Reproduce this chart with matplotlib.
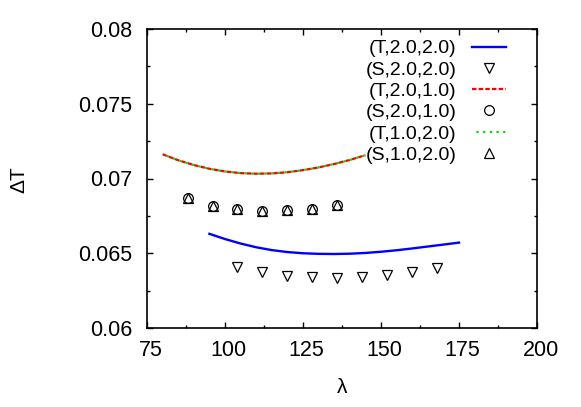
import matplotlib
matplotlib.use("Agg")
import matplotlib.pyplot as plt
from matplotlib.ticker import MultipleLocator, FormatStrFormatter
from matplotlib.transforms import ScaledTranslation

plt.rcParams['font.family'] = ['Liberation Sans', 'DejaVu Sans']

# theory curves
lam_T22 = [95, 100, 105, 110, 115, 120, 125, 130, 135, 140, 145, 150, 155, 160, 165, 170, 175]
dT_T22 = [0.0663, 0.06595, 0.06565, 0.0654, 0.06521, 0.06508, 0.065, 0.06496, 0.06495,
          0.06497, 0.06502, 0.0651, 0.0652, 0.06532, 0.06545, 0.06558, 0.06571]

lam_T21 = [80, 85, 90, 95, 100, 105, 110, 115, 120, 125, 130, 135, 140, 145]
dT_T21 = [0.07162, 0.07122, 0.0709, 0.07065, 0.07047, 0.07036, 0.07032, 0.07034,
          0.07042, 0.07056, 0.07074, 0.07097, 0.07124, 0.07156]
lam_T12 = lam_T21
dT_T12 = dT_T21

# simulation points
lam_S22 = [104, 112, 120, 128, 136, 144, 152, 160, 168]
dT_S22 = [0.06405, 0.06372, 0.0635, 0.06338, 0.06335, 0.06342, 0.06356, 0.06374, 0.06398]

lam_S21 = [88, 96, 104, 112, 120, 128, 136]
dT_S21 = [0.06868, 0.06818, 0.06794, 0.06784, 0.06788, 0.06798, 0.06822]
lam_S12 = lam_S21
dT_S12 = [0.06868, 0.06818, 0.06794, 0.06784, 0.06788, 0.06798, 0.06822]

fig = plt.figure(figsize=(5.81, 4.07), dpi=100)
ax = fig.add_axes([147 / 581, 1 - 328 / 407, 390 / 581, 299 / 407])

ax.plot(lam_T22, dT_T22, color='#0000ff', lw=1.7, label='(T,2.0,2.0)')
ax.plot(lam_S22, dT_S22, ls='none', marker='v', ms=7, mfc='none', mec='black', mew=0.9,
        label='(S,2.0,2.0)')
ax.plot(lam_T21, dT_T21, color='#ff0000', lw=1.6, ls=(0, (2, 1)), label='(T,2.0,1.0)')
ax.plot(lam_S21, dT_S21, ls='none', marker='o', ms=7, mfc='none', mec='black', mew=0.9,
        label='(S,2.0,1.0)')
ax.plot(lam_T12, dT_T12, color='#00dd00', lw=1.6, ls=(1, (1, 2)), label='(T,1.0,2.0)')
ax.plot(lam_S12, dT_S12, ls='none', marker='^', ms=7, mfc='none', mec='black', mew=0.9,
        label='(S,1.0,2.0)')

ax.set_xlim(75, 200)
ax.set_ylim(0.06, 0.08)
ax.xaxis.set_major_locator(MultipleLocator(25))
ax.xaxis.set_minor_locator(MultipleLocator(12.5))
ax.yaxis.set_major_locator(MultipleLocator(0.005))
ax.yaxis.set_minor_locator(MultipleLocator(0.0025))
ax.yaxis.set_major_formatter(FormatStrFormatter('%g'))
ax.tick_params(which='both', direction='in', top=True, right=True, labelsize=15.5, width=1)
ax.tick_params(which='major', length=4)
ax.tick_params(which='minor', length=2)
ax.tick_params(axis='y', which='major', pad=10.5)
ax.tick_params(axis='x', which='major', pad=9)
for s in ax.spines.values():
    s.set_linewidth(1.2)

# gnuplot puts x tick labels a touch right of the tick
for lbl in ax.get_xticklabels():
    lbl.set_transform(lbl.get_transform() + ScaledTranslation(0.035, 0, fig.dpi_scale_trans))

ax.set_xlabel('λ', fontsize=15)
ax.set_ylabel('ΔT', fontsize=15)
ax.xaxis.label.set_va('center')
ax.yaxis.label.set_va('center')
ax.xaxis.set_label_coords(0.5, -0.2)
ax.yaxis.set_label_coords(-0.328, 0.497)

ax.legend(loc='upper right', bbox_to_anchor=(0.94, 0.99), frameon=False, markerfirst=False,
          fontsize=14, handlelength=1.75, labelspacing=0.19, handletextpad=0.8,
          borderaxespad=0)

fig.savefig('out.png', dpi=100)
